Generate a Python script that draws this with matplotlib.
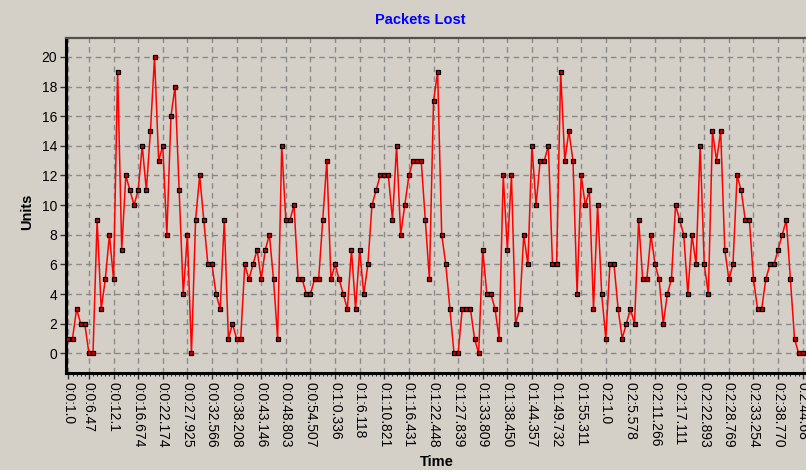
import matplotlib
matplotlib.use("Agg")
import matplotlib.pyplot as plt
from matplotlib.ticker import FixedLocator, MultipleLocator

# ---- data ----
values = [
    1, 1, 3, 2, 2, 0, 0, 9, 3, 5, 8, 5, 19, 7, 12,
    11,
    10, 11, 14, 11, 15, 20, 13, 14, 8, 16, 18, 11, 4,
    8, 0, 9, 12, 9, 6, 6, 4, 3, 9, 1, 2, 1, 1, 6, 5, 6, 7, 5, 7,
    8, 5, 1, 14, 9, 9, 10, 5, 5,
    4, 4, 5, 5, 9, 13, 5, 6, 5, 4, 3, 7, 3, 7, 4, 6, 10, 11, 12, 12,
    12, 9, 14, 8, 10, 12, 13, 13, 13, 9,
    5, 17, 19, 8, 6, 3, 0, 0, 3, 3, 3, 1, 0, 7, 4, 4, 3, 1, 12, 7,
    12, 2, 3, 8, 6, 14, 10, 13, 13,
    14, 6, 6, 19, 13, 15, 13, 4, 12, 10, 11, 3, 10, 4, 1, 6, 6, 3, 1, 2,
    3, 2, 9, 5, 5, 8, 6, 5, 2,
    4, 5, 10, 9, 8, 4, 8, 6, 14, 6, 4, 15, 13, 15, 7, 5, 6, 12, 11, 9,
    9, 5, 3, 3, 5, 6, 6, 7, 8, 9, 5, 1, 0, 0,
]

time_labels = [
    "0:0:1.0", "0:0:6.47", "0:0:12.1", "0:0:16.674", "0:0:22.174",
    "0:0:27.925", "0:0:32.566", "0:0:38.208", "0:0:43.146", "0:0:48.803",
    "0:0:54.507", "0:1:0.336", "0:1:6.118", "0:1:10.821", "0:1:16.431",
    "0:1:22.448", "0:1:27.839", "0:1:33.809", "0:1:38.450", "0:1:44.357",
    "0:1:49.732", "0:1:55.311", "0:2:1.0", "0:2:5.578", "0:2:11.266",
    "0:2:17.111", "0:2:22.893", "0:2:28.769", "0:2:33.254", "0:2:38.770",
    "0:2:44.68",
]

title = "Packets Lost"
x_title = "Time"
y_title = "Units"

# ---- styling ----
BG = "#d4d0c8"
plt.rcParams["font.family"] = ["Liberation Sans", "DejaVu Sans"]

n = len(values)
xs = list(range(n))
label_step = 6
label_idx = [0] + list(range(5, n, label_step))
label_idx = label_idx[:len(time_labels)]

fig = plt.figure(figsize=(8.06, 4.70), dpi=100, facecolor=BG)
ax = fig.add_axes([0.0813, 0.207, 0.9187, 0.713])
ax.set_facecolor(BG)

ax.plot(xs, values, color="#ff0000", lw=1.1, marker="s", ms=3.0,
        mfc="#cc0000", mec="#000000", mew=0.9, zorder=3)

ax.set_xlim(-0.7, 179.8)
ax.set_ylim(-1.3, 21.3)

ax.yaxis.set_major_locator(MultipleLocator(2))
ax.xaxis.set_major_locator(FixedLocator(label_idx))
ax.xaxis.set_minor_locator(FixedLocator(xs))
ax.set_xticklabels(time_labels, rotation=-90, fontsize=10)
ax.tick_params(axis="y", labelsize=10, length=4, width=1, color="#333333", pad=2)
ax.tick_params(axis="x", which="major", length=4, width=1, color="#333333", pad=3)
ax.tick_params(axis="x", which="minor", length=2.5, width=0.8, color="#333333")

ax.grid(True, which="major", color="#8a8a8a", linestyle=(0, (4, 3)), lw=1.0)
ax.set_axisbelow(True)

for side in ("left", "bottom"):
    ax.spines[side].set_linewidth(2.2)
    ax.spines[side].set_color("#000000")
ax.spines["top"].set_linewidth(1.6)
ax.spines["top"].set_color("#505050")
ax.spines["right"].set_visible(False)

fig.text(0.522, 0.957, title, color="#0000ff", fontsize=10.5,
         fontweight="bold", ha="center", va="center")
fig.text(0.542, 0.016, x_title, fontsize=10.5, fontweight="bold",
         ha="center", va="center")
fig.text(0.034, 0.55, y_title, fontsize=10.5, fontweight="bold",
         ha="center", va="center", rotation=90)

fig.savefig("out.png", dpi=100, facecolor=BG)
